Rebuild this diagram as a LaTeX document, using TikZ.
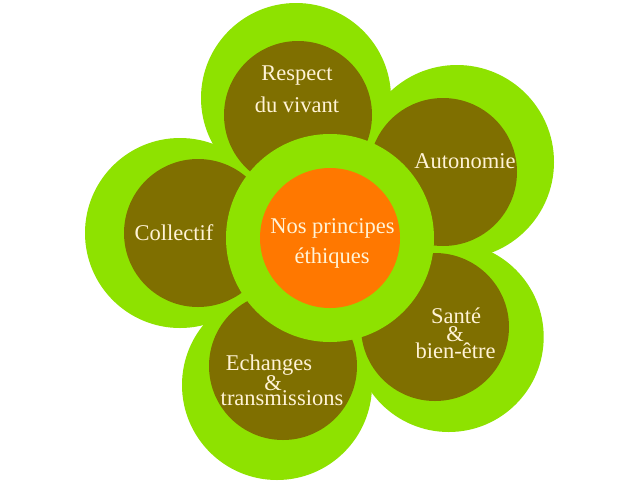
\documentclass[tikz,border=0pt]{standalone}
\usepackage{fontspec}
\setmainfont{Liberation Serif}
\definecolor{lime}{HTML}{8EE200}
\definecolor{olive}{HTML}{7F6F00}
\definecolor{orng}{HTML}{FF7800}
\definecolor{cream}{HTML}{FFF3D6}
\begin{document}
\begin{tikzpicture}[x=1pt,y=-1pt,
  greenc/.style={circle,fill=lime,draw=none,minimum size=190pt,inner sep=0pt},
  olivec/.style={circle,fill=olive,draw=none,minimum size=148pt,inner sep=0pt},
  lbl/.style={text=cream,anchor=base,inner sep=0pt,font=\fontsize{22.5}{24}\selectfont}]
\useasboundingbox[fill=white] (0,0) rectangle (640,480);
% outer green petals
\node[greenc] (g1) at (296,98) {};
\node[greenc,minimum size=194pt] (g2) at (457,162) {};
\node[greenc] (g3) at (448.7,337) {};
\node[greenc] (g4) at (277,385) {};
\node[greenc] (g5) at (180,233) {};
% olive petals
\node[olivec] (o1) at (298,115) {};
\node[olivec] (o2) at (443,172) {};
\node[olivec] (o3) at (435,327) {};
\node[olivec] (o4) at (283,366) {};
\node[olivec] (o5) at (198,233) {};
% centre
\node[circle,fill=lime,minimum size=208pt,inner sep=0pt] (cg) at (330,238) {};
\node[circle,fill=orng,minimum size=140pt,inner sep=0pt] (co) at (330,238) {};
% labels
\node[lbl] (t1a) at (297,80) {Respect};
\node[lbl] (t1b) at (297,112) {du vivant};
\node[lbl] (t2) at (465,168.5) {Autonomie};
\node[lbl] (t5) at (174,240) {Collectif};
\node[lbl] (t0a) at (332.5,233) {Nos principes};
\node[lbl] (t0b) at (332,263) {éthiques};
\node[lbl] (t3a) at (456,323) {Santé};
\node[lbl] (t3b) at (455,341.5) {\&};
\node[lbl] (t3c) at (455.5,358) {bien-être};
\node[lbl] (t4a) at (269,370) {Echanges};
\node[lbl] (t4b) at (273,390.5) {\&};
\node[lbl] (t4c) at (282,405) {transmissions};
\end{tikzpicture}
\end{document}
